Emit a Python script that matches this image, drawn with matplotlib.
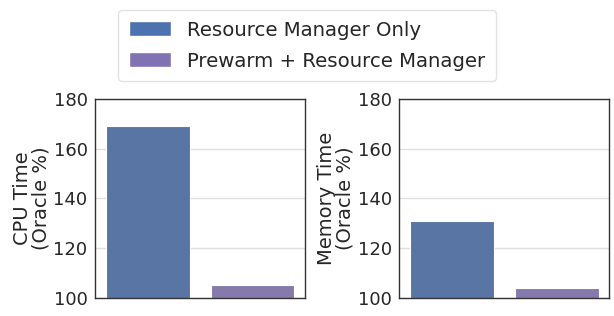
import matplotlib
matplotlib.use("Agg")
import matplotlib.pyplot as plt
import seaborn as sns
from matplotlib.patches import Patch

# Data
configs = ["Resource Manager Only", "Prewarm + Resource Manager"]
cpu_time = [169, 105.3]
mem_time = [131, 104]
ylabels = ["CPU Time\n(Oracle %)", "Memory Time\n(Oracle %)"]

sns.set_style("whitegrid")
plt.rcParams['font.family'] = ['DejaVu Sans']
colors = sns.color_palette("deep")
pal = [colors[0], colors[4]]
bar_pal = sns.color_palette(pal, desat=0.75)

fig, axes = plt.subplots(1, 2, figsize=(6.14, 3.16), dpi=100)
fig.subplots_adjust(left=0.155, right=0.992, bottom=0.057, top=0.687, wspace=0.45)

for ax, vals, lab in zip(axes, [cpu_time, mem_time], ylabels):
    ax.bar(range(len(vals)), vals, width=0.8, color=bar_pal, edgecolor="white", linewidth=0.8)
    ax.set_ylim(100, 180)
    ax.set_xlim(-0.5, 1.5)
    ax.set_yticks([100, 120, 140, 160, 180])
    ax.set_xticks([])
    ax.set_ylabel(lab, fontsize=14, color="#262626", labelpad=2, linespacing=1.0)
    ax.tick_params(axis="y", labelsize=13, colors="#262626", pad=2)
    ax.grid(axis="x", visible=False)
    ax.grid(axis="y", color="#e0e0e0", linewidth=1)
    for s in ax.spines.values():
        s.set_edgecolor("#333333")
        s.set_linewidth(1.0)

handles = [Patch(facecolor=c, label=l) for c, l in zip(pal, configs)]
fig.legend(handles=handles, loc="upper center", bbox_to_anchor=(0.5, 1.0),
           fontsize=14.2, frameon=True, handlelength=2.1, handleheight=0.8,
           handletextpad=0.8, borderpad=0.55, labelspacing=0.6, edgecolor="#dddddd")

fig.savefig("out.png", dpi=100)
